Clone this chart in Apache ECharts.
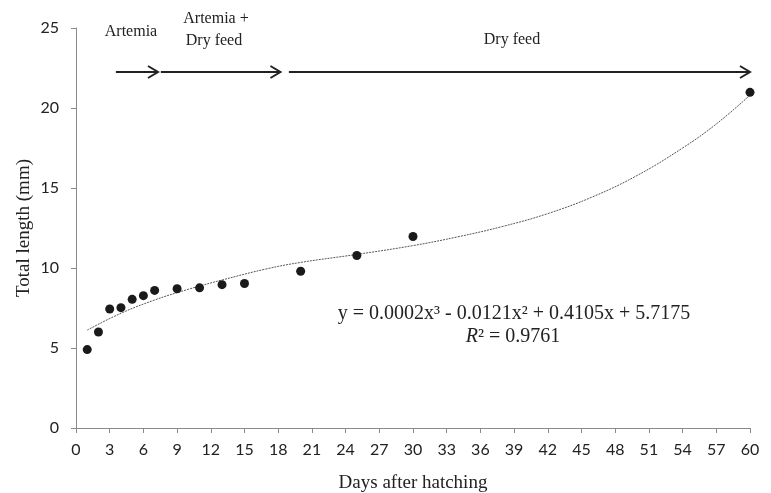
<!DOCTYPE html>
<html>
<head>
<meta charset="utf-8">
<script src="https://cdn.jsdelivr.net/npm/echarts@6/dist/echarts.min.js"></script>
<style>
  html, body { margin: 0; padding: 0; background: #fff; }
  #main { width: 771px; height: 493px; }
</style>
</head>
<body>
<div id="main"></div>
<script>
// measured points
var days = [1, 2, 3, 4, 5, 6, 7, 9, 11, 13, 15, 20, 25, 30, 60];
var lengths = [4.9, 6.0, 7.44, 7.52, 8.04, 8.27, 8.6, 8.7, 8.76, 8.96, 9.03, 9.8, 10.78, 11.97, 20.98];

// trend curve
var trendX = [1, 4, 7, 10, 13, 17, 20, 25, 30, 34, 38, 42, 46, 50, 54, 57, 60];
var trendY = [6.12, 7.17, 8.0, 8.67, 9.25, 9.95, 10.35, 10.85, 11.4, 11.95, 12.6, 13.4, 14.45, 15.8, 17.5, 19.0, 20.8];

// feeding phase arrows (start day, end day)
var arrowStart = [3.55, 7.55, 18.95];
var arrowEnd = [7.3, 18.2, 60];
var arrowLevel = 22.25;

var xTicks = { min: 0, max: 60, step: 3 };
var yTicks = { min: 0, max: 25, step: 5 };

var chart = echarts.init(document.getElementById('main'));

var serif = '"Liberation Serif", "Times New Roman", serif';
var sans = 'Lato, "Open Sans", sans-serif';

var scatterData = days.map(function (d, i) { return [d, lengths[i]]; });
var trendData = trendX.map(function (d, i) { return [d, trendY[i]]; });
var arrowData = arrowStart.map(function (s, i) { return [s, arrowEnd[i], arrowLevel]; });

function label(x, y, text, size, extra) {
  var st = {
    text: text, fontFamily: serif, fontSize: size, fill: '#222',
    align: 'center', verticalAlign: 'middle',
    textAlign: 'center', textVerticalAlign: 'middle'
  };
  if (extra) { for (var k in extra) st[k] = extra[k]; }
  return { type: 'text', x: x, y: y, style: st };
}

var option = {
  animation: false,
  grid: { left: 76, right: 21, top: 28, bottom: 65, containLabel: false, outerBoundsMode: 'none' },
  xAxis: {
    type: 'value',
    min: xTicks.min, max: xTicks.max, interval: xTicks.step,
    name: 'Days after hatching',
    nameLocation: 'middle',
    nameGap: 46,
    nameTextStyle: { fontFamily: serif, fontSize: 19, color: '#222' },
    axisLine: { lineStyle: { color: '#8a8a8a', width: 1 } },
    axisTick: { show: true, length: 5, lineStyle: { color: '#8a8a8a' } },
    axisLabel: { fontFamily: sans, fontSize: 16, color: '#222', margin: 14 },
    splitLine: { show: false }
  },
  yAxis: {
    type: 'value',
    min: yTicks.min, max: yTicks.max, interval: yTicks.step,
    name: 'Total length (mm)',
    nameLocation: 'middle',
    nameGap: 42,
    nameMoveOverlap: false,
    nameTextStyle: { fontFamily: serif, fontSize: 19, color: '#222' },
    axisLine: { show: true, lineStyle: { color: '#8a8a8a', width: 1 } },
    axisTick: { show: true, length: 5, lineStyle: { color: '#8a8a8a' } },
    axisLabel: { fontFamily: sans, fontSize: 16, color: '#222', margin: 17 },
    splitLine: { show: false }
  },
  series: [
    {
      name: 'trend',
      type: 'line',
      data: trendData,
      smooth: 0.4,
      showSymbol: false,
      lineStyle: { color: '#555', width: 1, type: [2, 1] },
      z: 1
    },
    {
      name: 'Total length',
      type: 'scatter',
      data: scatterData,
      symbolSize: 9,
      itemStyle: { color: '#1a1a1a', opacity: 1 },
      z: 3
    },
    {
      name: 'phases',
      type: 'custom',
      data: arrowData,
      renderItem: function (params, api) {
        var p1 = api.coord([api.value(0), api.value(2)]);
        var p2 = api.coord([api.value(1), api.value(2)]);
        var st = { stroke: '#222', lineWidth: 2, fill: null };
        return {
          type: 'group',
          children: [
            { type: 'line', shape: { x1: p1[0], y1: p1[1], x2: p2[0] - 1, y2: p2[1] }, style: st },
            { type: 'polyline', shape: { points: [[p2[0] - 10, p2[1] - 6], [p2[0], p2[1]], [p2[0] - 10, p2[1] + 6]] }, style: st }
          ]
        };
      },
      z: 2
    }
  ],
  graphic: [
    label(131, 32, 'Artemia', 16),
    label(216, 19, 'Artemia +', 16),
    label(214, 41, 'Dry feed', 16),
    label(512, 40, 'Dry feed', 16),
    label(514, 314, 'y = 0.0002x³ - 0.0121x² + 0.4105x + 5.7175', 20),
    label(513, 337, '{i|R}² = 0.9761', 20, {
      rich: { i: { fontFamily: serif, fontSize: 20, fontStyle: 'italic', fill: '#222' } }
    })
  ]
};

chart.setOption(option);
</script>
</body>
</html>
